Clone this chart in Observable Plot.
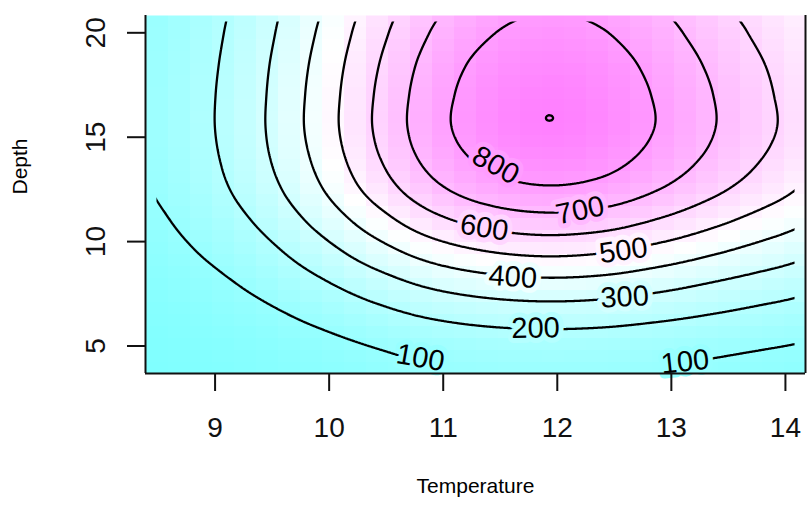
<!DOCTYPE html>
<html>
<head>
<meta charset="utf-8">
<script src="https://cdn.jsdelivr.net/npm/d3@7"></script>
<script src="https://cdn.jsdelivr.net/npm/@observablehq/plot@0.6"></script>
<style>
  html, body { margin: 0; padding: 0; background: #ffffff; }
  #chart { width: 807px; height: 518px; }
</style>
</head>
<body>
<div id="chart"></div>
<script>
// ---- data ----
// fitted surface (Temperature x Depth) at grid nodes
const temperatureNodes = [8.4, 8.9, 9.4, 9.9, 10.4, 10.9, 11.4, 11.9, 12.4, 12.9, 13.4, 13.9, 14.4];
const depthNodes = [3.5, 5, 6.5, 8, 9.5, 11, 12.5, 14, 15.5, 17, 18.5, 20, 21.5];

const fitDepth03_5 = [13, 21, 33, 50, 70, 91, 101, 104, 102, 94, 80, 69, 59];
const fitDepth05_0 = [19, 31, 49, 74, 103, 129, 146, 152, 148, 135, 119, 103, 89];
const fitDepth06_5 = [31, 51, 81, 122, 170, 213, 240, 250, 243, 222, 196, 169, 146];
const fitDepth08_0 = [47, 76, 122, 184, 255, 320, 359, 375, 365, 333, 293, 254, 219];
const fitDepth09_5 = [65, 106, 168, 255, 354, 443, 498, 520, 505, 461, 407, 352, 303];
const fitDepth11_0 = [83, 136, 215, 326, 452, 567, 637, 665, 646, 590, 520, 450, 388];
const fitDepth12_5 = [98, 161, 255, 386, 536, 671, 755, 788, 766, 699, 616, 533, 459];
const fitDepth14_0 = [107, 175, 279, 421, 585, 733, 824, 860, 836, 763, 673, 582, 501];
const fitDepth15_5 = [112, 182, 289, 438, 607, 761, 855.5, 897.9, 868, 792, 698, 605, 521];
const fitDepth17_0 = [111, 181, 287, 435, 603, 756, 850, 891.9, 862, 787, 694, 600, 517];
const fitDepth18_5 = [108, 176, 280, 424, 588, 737, 829, 865, 841, 767, 676, 586, 504];
const fitDepth20_0 = [104, 169, 268, 406, 563, 705, 793, 828, 805, 734, 647, 561, 483];
const fitDepth21_5 = [99, 161, 256, 387, 537, 673, 757, 790, 768, 701, 618, 535, 461];

const fittedRows = [fitDepth03_5, fitDepth05_0, fitDepth06_5, fitDepth08_0, fitDepth09_5, fitDepth11_0,
  fitDepth12_5, fitDepth14_0, fitDepth15_5, fitDepth17_0, fitDepth18_5, fitDepth20_0, fitDepth21_5];

const contourLevels = [100, 200, 300, 400, 500, 600, 700, 800, 900];

// contour labels
const labelLevels = [800, 700, 600, 500, 400, 300, 200, 100, 100];
const labelTemperature = [11.46, 12.2, 11.36, 12.58, 11.61, 12.59, 11.81, 10.8, 13.12];
const labelDepth = [13.65, 11.49, 10.66, 9.57, 8.3, 7.34, 5.85, 4.43, 4.24];
const labelAngle = [29, -12, 9, -8, 4, -3, -1, 10, -6];

const xTicks = [9, 10, 11, 12, 13, 14];
const yTicks = [5, 10, 15, 20];

const xDomain = [8.39, 14.176];
const yDomain = [3.683, 20.829];
const gridTemperature = [8.486, 14.08];
const gridDepth = [3.969, 20.543];
const sampleTemperature = [8.25, 14.3];
const sampleDepth = [3.5, 21.2];
const zRange = [15, 900];

// ---- surface lookup (smooth between the read grid nodes) ----
function cr(p0, p1, p2, p3, t) {
  return 0.5 * (2 * p1 + (-p0 + p2) * t + (2 * p0 - 5 * p1 + 4 * p2 - p3) * t * t + (-p0 + 3 * p1 - 3 * p2 + p3) * t * t * t);
}
function surface(T, D) {
  const nT = temperatureNodes.length, nD = depthNodes.length;
  const u = (T - temperatureNodes[0]) / (temperatureNodes[1] - temperatureNodes[0]);
  const v = (D - depthNodes[0]) / (depthNodes[1] - depthNodes[0]);
  const i = Math.max(0, Math.min(nT - 2, Math.floor(u)));
  const j = Math.max(0, Math.min(nD - 2, Math.floor(v)));
  const tu = u - i, tv = v - j;
  const ci = k => Math.max(0, Math.min(nT - 1, k));
  const rj = k => Math.max(0, Math.min(nD - 1, k));
  const r = [-1, 0, 1, 2].map(dj => {
    const row = fittedRows[rj(j + dj)];
    return cr(row[ci(i - 1)], row[ci(i)], row[ci(i + 1)], row[ci(i + 2)], tu);
  });
  return cr(r[0], r[1], r[2], r[3], tv);
}

const labels = labelLevels.map((level, k) => ({
  level, T: labelTemperature[k], D: labelDepth[k], angle: labelAngle[k]
}));

const cmColors = d3.piecewise(d3.interpolateRgb, ["#80ffff", "#ffffff", "#ff80ff"]);
const font = "'Liberation Sans', Arial, Helvetica, sans-serif";

const chart = Plot.plot({
  width: 807,
  height: 518,
  marginLeft: 145,
  marginTop: 15,
  marginRight: 2,
  marginBottom: 145,
  x: {domain: xDomain, label: null},
  y: {domain: yDomain, label: null},
  color: {type: "linear", domain: zRange, interpolate: cmColors},
  style: {fontFamily: font, background: "#ffffff", color: "#000", overflow: "visible"},
  marks: [
    Plot.raster({
      fill: (x, y) => surface(x, y),
      x1: xDomain[0], x2: xDomain[1], y1: yDomain[0], y2: yDomain[1],
      width: 30, height: 30, imageRendering: "pixelated"
    }),
    Plot.contour({
      value: (x, y) => surface(x, y),
      x1: sampleTemperature[0], x2: sampleTemperature[1], y1: sampleDepth[0], y2: sampleDepth[1],
      thresholds: contourLevels,
      fill: "none", stroke: "#000", strokeWidth: 2.3, pixelSize: 1
    }),
    Plot.text(labels, {
      x: "T", y: "D", text: d => String(d.level), rotate: "angle",
      fill: "#000", stroke: "level", strokeWidth: 10, paintOrder: "stroke", strokeLinejoin: "round",
      fontSize: 29, fontFamily: font, textAnchor: "middle", lineAnchor: "middle"
    }),
    Plot.ruleX(xDomain, {stroke: "#111", strokeWidth: 2}),
    Plot.ruleY([yDomain[0]], {stroke: "#111", strokeWidth: 2}),
    Plot.axisX(xTicks, {tickSize: 18, tickFormat: () => "", stroke: "#111", strokeWidth: 2, label: null}),
    Plot.axisY(yTicks, {tickSize: 18, tickFormat: () => "", stroke: "#111", strokeWidth: 2, label: null}),
    Plot.text(xTicks, {x: d => d, text: d => String(d), frameAnchor: "bottom", dy: 55, lineAnchor: "middle", fontSize: 28, fill: "#111"}),
    Plot.text(yTicks, {y: d => d, text: d => String(d), frameAnchor: "left", dx: -49, rotate: -90, lineAnchor: "middle", textAnchor: "middle", fontSize: 28, fill: "#111"}),
    Plot.text(["Temperature"], {text: d => d, frameAnchor: "bottom", dy: 113, lineAnchor: "middle", fontSize: 21, fill: "#000"}),
    Plot.text(["Depth"], {text: d => d, frameAnchor: "left", dx: -125, rotate: -90, lineAnchor: "middle", fontSize: 21, fill: "#000"})
  ]
});

// clip the contour lines to the fitted grid's extent (as R's contour() does)
(function clipContours() {
  const xs = chart.scale("x"), ys = chart.scale("y");
  const xa = xs.apply(gridTemperature[0]), xb = xs.apply(gridTemperature[1]);
  const ya = ys.apply(gridDepth[1]), yb = ys.apply(gridDepth[0]);
  const ns = "http://www.w3.org/2000/svg";
  const defs = document.createElementNS(ns, "defs");
  const cp = document.createElementNS(ns, "clipPath");
  cp.setAttribute("id", "grid-clip");
  const rect = document.createElementNS(ns, "rect");
  rect.setAttribute("x", Math.min(xa, xb));
  rect.setAttribute("y", Math.min(ya, yb));
  rect.setAttribute("width", Math.abs(xb - xa));
  rect.setAttribute("height", Math.abs(yb - ya));
  cp.appendChild(rect);
  defs.appendChild(cp);
  chart.insertBefore(defs, chart.firstChild);
  const g = chart.querySelector('g[aria-label="contour"]');
  if (g) g.setAttribute("clip-path", "url(#grid-clip)");
})();

document.getElementById("chart").appendChild(chart);
</script>
</body>
</html>
